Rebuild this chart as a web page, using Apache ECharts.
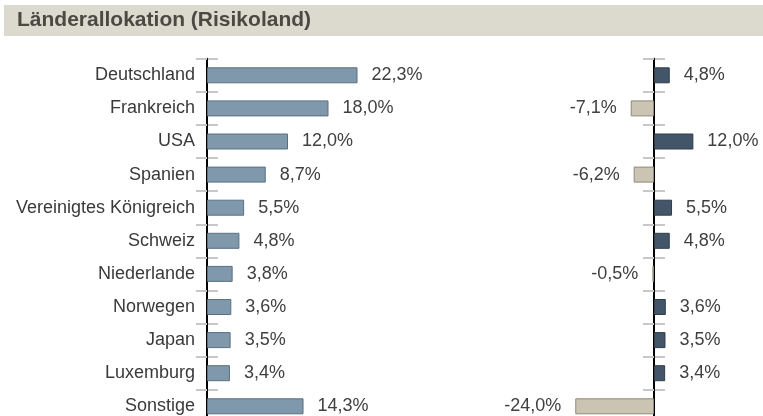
<!DOCTYPE html>
<html>
<head>
<meta charset="utf-8">
<script src="https://cdn.jsdelivr.net/npm/echarts@6/dist/echarts.min.js"></script>
<style>
  html, body { margin: 0; padding: 0; background: #fff; }
  #chart { width: 763px; height: 416px; }
</style>
</head>
<body>
<div id="chart"></div>
<script>
// Länder (Risikoland)
const countries = [
  "Deutschland", "Frankreich", "USA", "Spanien", "Vereinigtes Königreich",
  "Schweiz", "Niederlande", "Norwegen", "Japan", "Luxemburg", "Sonstige"
];
// Allokation in %
const allocation = [22.3, 18.0, 12.0, 8.7, 5.5, 4.8, 3.8, 3.6, 3.5, 3.4, 14.3];
// Differenz in %
const difference = [4.8, -7.1, 12.0, -6.2, 5.5, 4.8, -0.5, 3.6, 3.5, 3.4, -24.0];

const FONT = "'Liberation Sans', Arial, sans-serif";
const fmt = (v) => v.toFixed(1).replace(".", ",") + "%";

const chart = echarts.init(document.getElementById("chart"), null, { renderer: "canvas" });

const tickStyle = { color: "#c8c8c8", width: 2 };
const bandHeight = 33.1 * countries.length;

// right panel: x range -30..20 over 164px, zero line sits 98.4px from grid left
const diffMin = -30, diffMax = 20, diffWidth = 164;
const zeroShift = (-diffMin / (diffMax - diffMin)) * diffWidth;

// inside = second copy of the axis that only draws the inner half of the ticks
function catAxis(gridIndex, withLabels, inside, onZero, offset) {
  return {
    type: "category",
    gridIndex: gridIndex,
    position: "left",
    offset: offset || 0,
    data: countries,
    inverse: true,
    z: inside ? 1 : 2,
    axisLine: {
      show: !inside,
      onZero: onZero,
      lineStyle: { color: "#000", width: 2 },
    },
    axisTick: { show: true, inside: inside, length: 11, lineStyle: tickStyle },
    axisLabel: {
      show: withLabels && !inside,
      margin: 12,
      fontFamily: FONT,
      fontSize: 18,
      color: "#3a3a3a",
    },
  };
}

const valueLabel = {
  show: true,
  distance: 14,
  formatter: (p) => fmt(p.value),
  fontFamily: FONT,
  fontSize: 18,
  color: "#404040",
};

chart.setOption({
  animation: false,
  graphic: [
    {
      type: "rect",
      shape: { x: 4, y: 5, width: 759, height: 31 },
      style: { fill: "#dcd9ce" },
      z: -1,
    },
  ],
  title: {
    text: "Länderallokation (Risikoland)",
    left: 17,
    top: 10,
    padding: 0,
    textStyle: { fontFamily: FONT, fontSize: 21, fontWeight: "bold", color: "#4a4a42" },
  },
  grid: [
    { left: 207, top: 58.75, width: 202.5, height: bandHeight, outerBoundsMode: "none" },
    { left: 654 - zeroShift, top: 58.75, width: diffWidth, height: bandHeight, outerBoundsMode: "none" },
  ],
  xAxis: [
    { type: "value", gridIndex: 0, min: 0, max: 30, show: false },
    { type: "value", gridIndex: 1, min: diffMin, max: diffMax, show: false },
  ],
  yAxis: [
    catAxis(0, true, false, false),
    catAxis(0, false, true, false),
    catAxis(1, false, false, true),
    catAxis(1, false, true, false, -zeroShift),
  ],
  series: [
    {
      type: "bar",
      xAxisIndex: 0,
      yAxisIndex: 0,
      barWidth: 16,
      data: allocation,
      itemStyle: { color: "#7f98ac", borderColor: "#5b7081", borderWidth: 1 },
      label: Object.assign({ position: "right" }, valueLabel),
    },
    {
      type: "bar",
      xAxisIndex: 1,
      yAxisIndex: 2,
      barWidth: 16,
      data: difference.map((v) => ({
        value: v,
        itemStyle: v < 0
          ? { color: "#cbc4b3", borderColor: "#8f897b", borderWidth: 1 }
          : { color: "#435669", borderColor: "#2f3d4b", borderWidth: 1 },
        label: { position: v < 0 ? "left" : "right" },
      })),
      label: valueLabel,
    },
  ],
});
</script>
</body>
</html>
